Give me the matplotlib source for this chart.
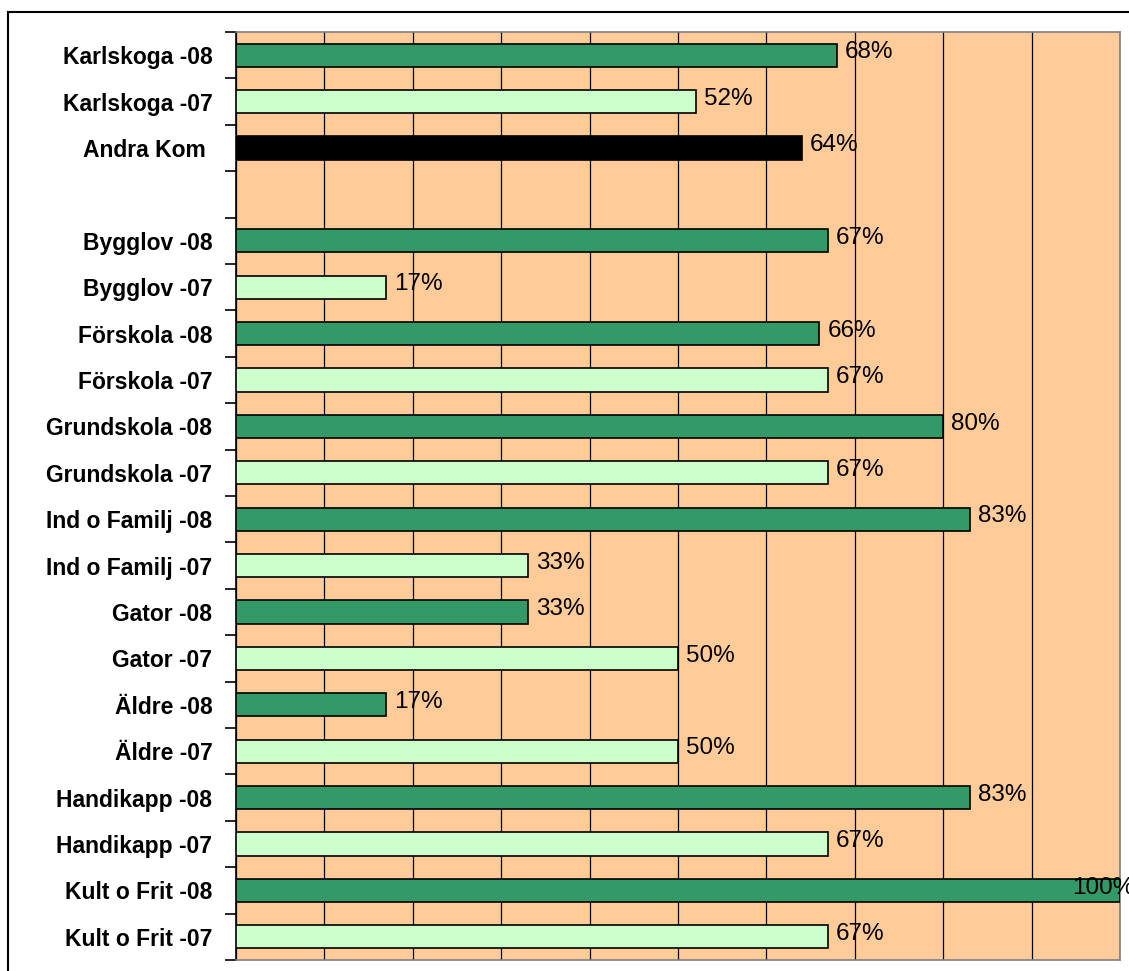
import matplotlib.pyplot as plt
from matplotlib.patches import Rectangle
import numpy as np

categories = ["Karlskoga -08", "Karlskoga -07", "Andra Kom ", "",
              "Bygglov -08", "Bygglov -07", "Förskola -08", "Förskola -07",
              "Grundskola -08", "Grundskola -07", "Ind o Familj -08", "Ind o Familj -07",
              "Gator -08", "Gator -07", "Äldre -08", "Äldre -07",
              "Handikapp -08", "Handikapp -07", "Kult o Frit -08", "Kult o Frit -07"]
values = [68, 52, 64, None, 67, 17, 66, 67, 80, 67, 83, 33, 33, 50, 17, 50, 83, 67, 100, 67]
kinds = ["08", "07", "other", "", "08", "07", "08", "07", "08", "07",
         "08", "07", "08", "07", "08", "07", "08", "07", "08", "07"]

colors = {"08": "#339966", "07": "#CCFFCC", "other": "#000000"}

plt.rcParams['font.family'] = ['Liberation Sans', 'DejaVu Sans']

fig = plt.figure(figsize=(11.29, 9.71), dpi=100)
W, H = 1129, 971
ax = fig.add_axes([236 / W, 1 - 960 / H, (1120 - 236) / W, (960 - 32) / H])
ax.set_facecolor("#FFCC99")

# outer chart frame (runs off the right and bottom edges)
fig.patches.append(Rectangle((8 / W, -0.05), 1.1, 1 - 12 / H + 0.05,
                             transform=fig.transFigure, fill=False,
                             edgecolor="black", linewidth=1.5, zorder=0))

y = np.arange(len(categories))
for yi, v, k in zip(y, values, kinds):
    if v is None:
        continue
    ax.barh(yi, v, height=0.5, color=colors[k], edgecolor="black", linewidth=1.2, zorder=3)
    if v >= 100:
        ax.text(v - 5.4, yi - 0.06, f"{v}%", va="center", ha="left", fontsize=17.5, zorder=4, clip_on=False)
    else:
        ax.text(v + 0.9, yi - 0.06, f"{v}%", va="center", ha="left", fontsize=17.5, zorder=4)

ax.set_xlim(0, 100)
ax.set_ylim(len(categories) - 0.5, -0.5)
ax.set_xticks(np.arange(0, 101, 10))
ax.xaxis.grid(True, color="black", linewidth=0.9, zorder=1)
ax.tick_params(axis="x", length=0, labelbottom=False)

ax.set_yticks(y)
ax.set_yticklabels(categories, fontsize=16.5, fontweight="bold")
ax.tick_params(axis="y", which="major", length=0, pad=17)
ax.set_yticks(np.arange(-0.5, len(categories), 1), minor=True)
ax.tick_params(axis="y", which="minor", length=8, width=1.2, color="black")

for side in ["top", "right", "bottom"]:
    ax.spines[side].set_color("#808080")
    ax.spines[side].set_linewidth(1.2)
ax.spines["left"].set_color("black")
ax.spines["left"].set_linewidth(1.2)
ax.set_axisbelow(True)

fig.savefig("out.png", dpi=100)
